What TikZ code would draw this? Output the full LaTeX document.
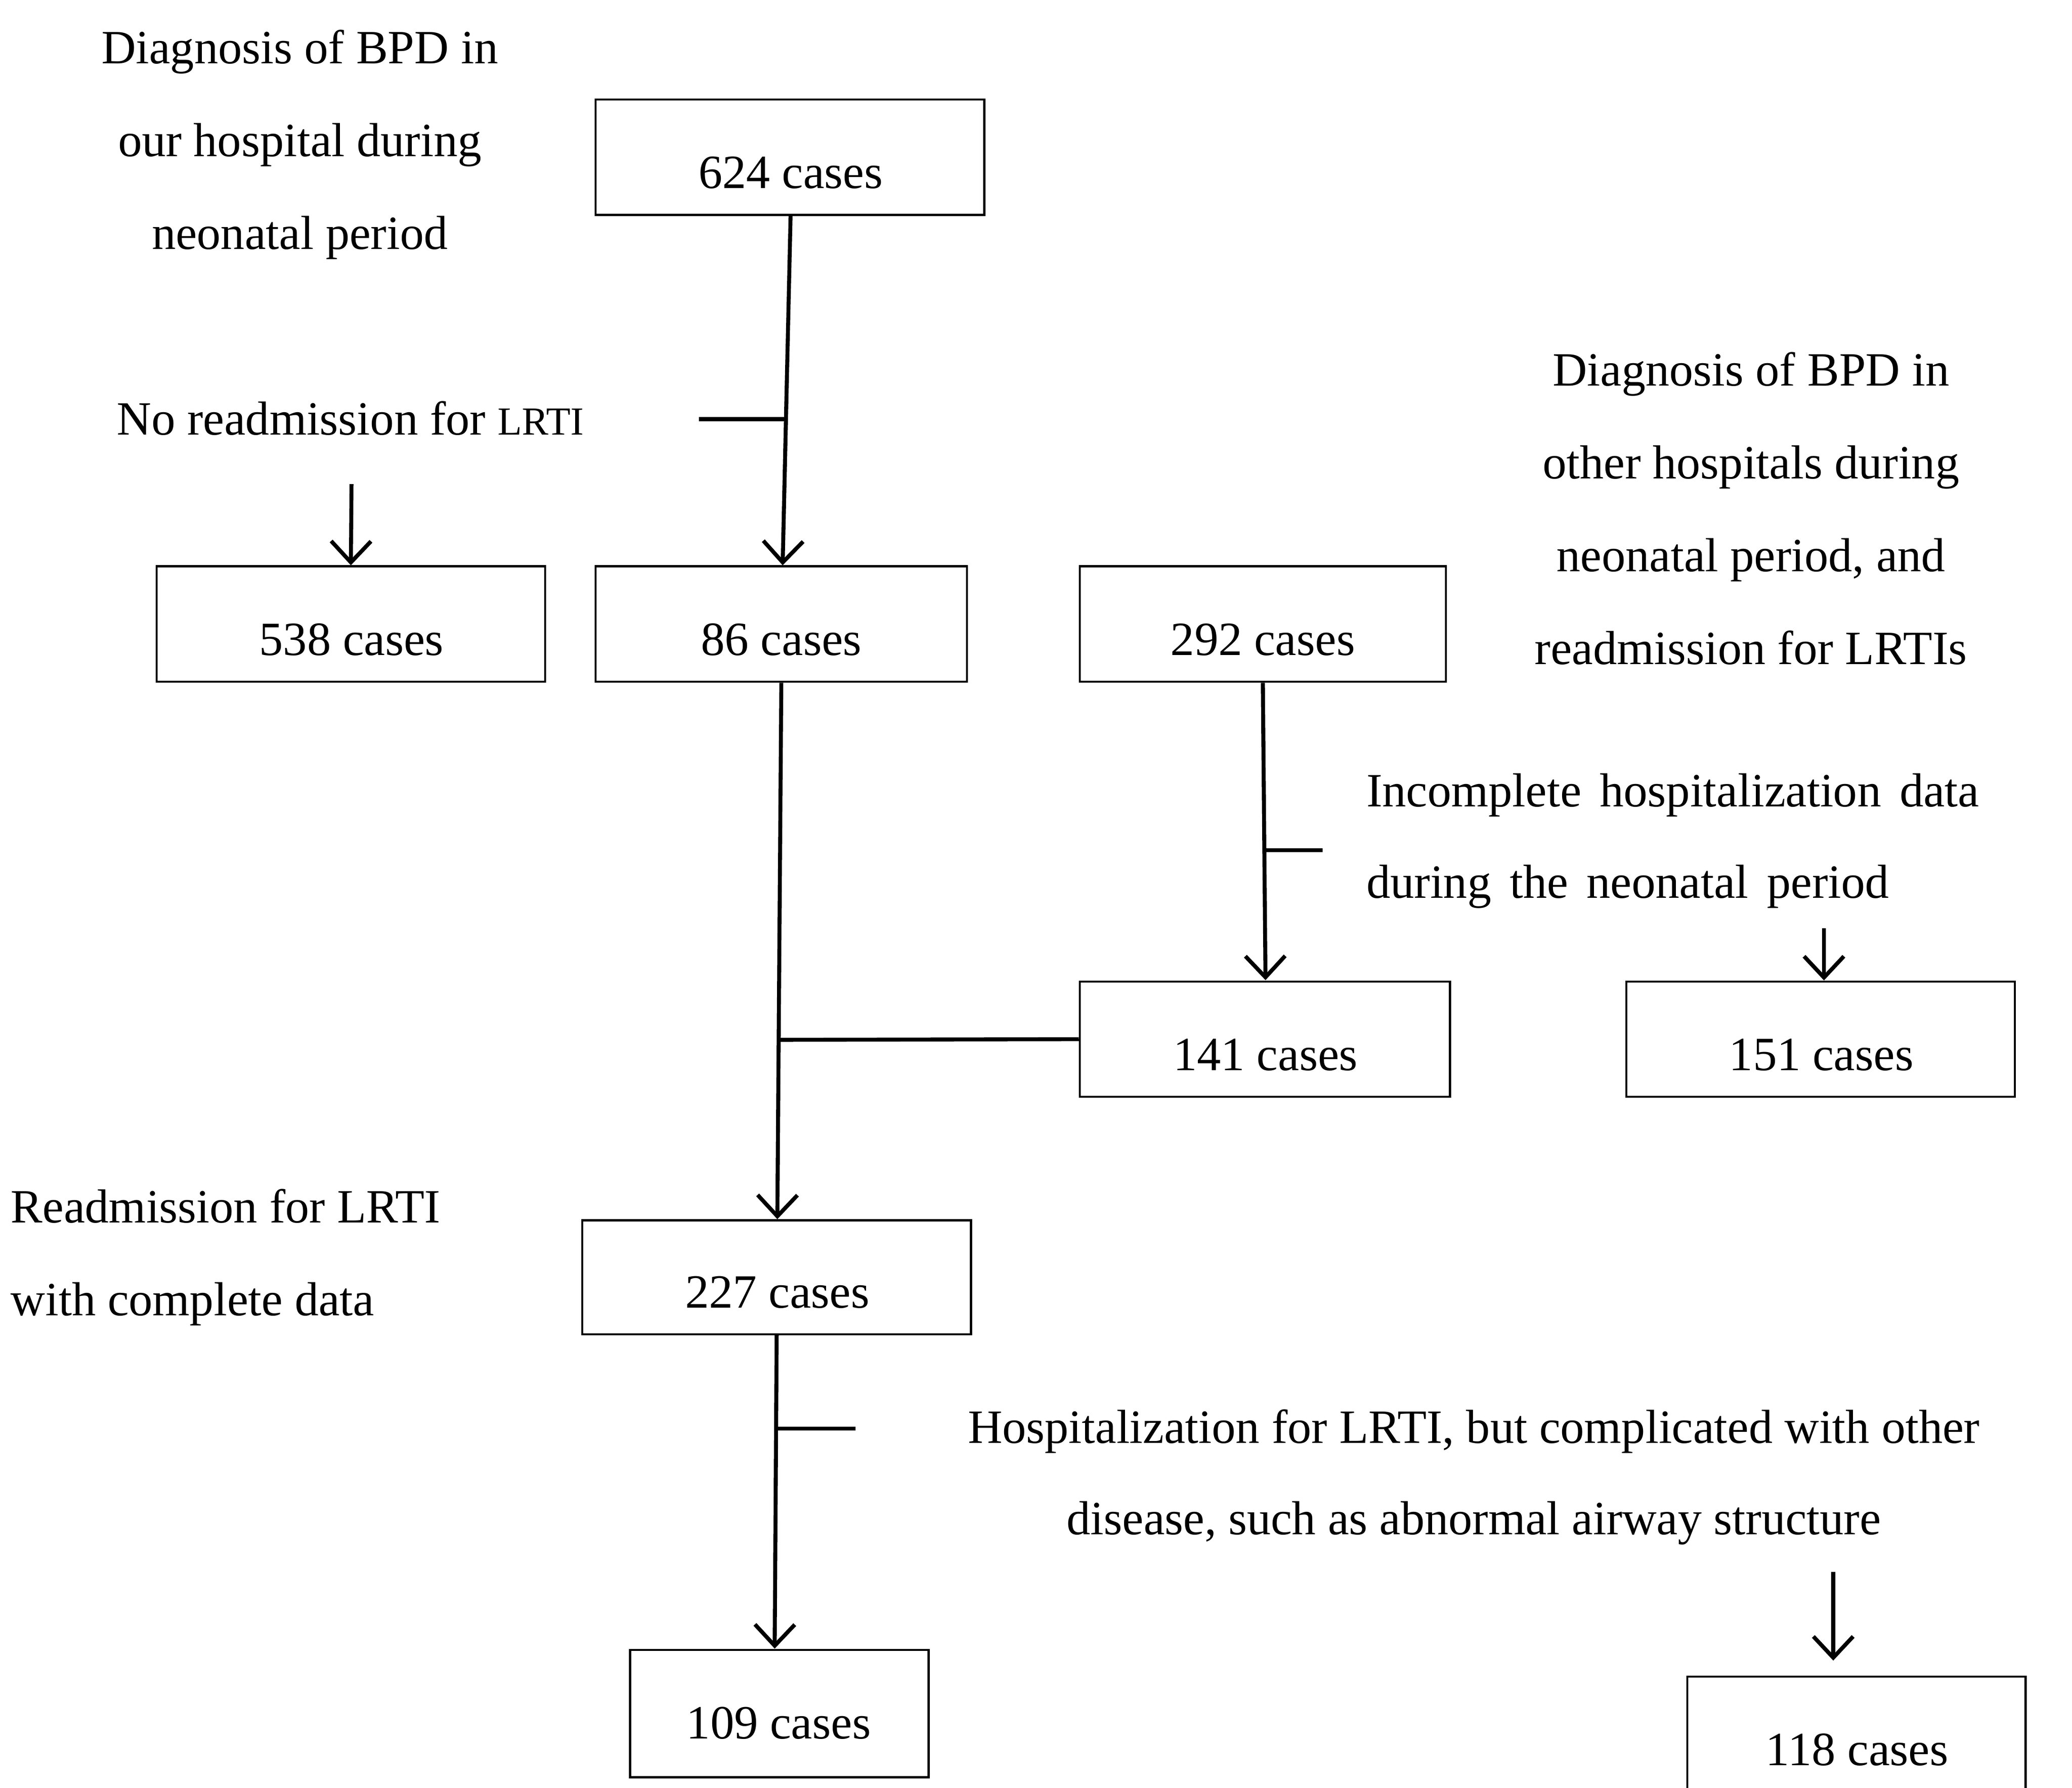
\documentclass[tikz,border=0pt]{standalone}
\usepackage{fontspec}
\setmainfont{Liberation Serif}
\usetikzlibrary{arrows.meta}
\begin{document}
\begin{tikzpicture}[x=1pt,y=-1pt,
  box/.style={draw,line width=1.6pt,inner sep=0pt},
  lbl/.style={font=\fontsize{36}{44}\selectfont,inner sep=0pt,anchor=base},
  txt/.style={font=\fontsize{36}{70}\selectfont,inner sep=0pt,align=center},
  ln/.style={line width=3pt},
  arr/.style={line width=3pt,-{Straight Barb[length=16pt,width=30pt,line width=3pt]}}]
\useasboundingbox (0,0) rectangle (1562,1348);
\fill[white] (0,0) rectangle (1562,1348);
% boxes
\node[box,minimum width=293pt,minimum height=87pt] (b624) at (595.5,118.5) {};
\node[box,minimum width=293pt,minimum height=87pt] (b538) at (264.5,470.5) {};
\node[box,minimum width=280pt,minimum height=87pt] (b86) at (589,470.5) {};
\node[box,minimum width=276pt,minimum height=87pt] (b292) at (952,470.5) {};
\node[box,minimum width=279pt,minimum height=87pt] (b141) at (953.5,783.5) {};
\node[box,minimum width=293pt,minimum height=87pt] (b151) at (1372.5,783.5) {};
\node[box,minimum width=293pt,minimum height=86pt] (b227) at (585.5,963) {};
\node[box,minimum width=225pt,minimum height=96pt] (b109) at (587.5,1292) {};
\node[box,minimum width=255pt,minimum height=88pt] (b118) at (1399.5,1308) {};
\node[lbl] at (596,142) {624 cases};
\node[lbl] at (265,494) {538 cases};
\node[lbl] at (589,494) {86 cases};
\node[lbl] at (952,494) {292 cases};
\node[lbl] at (954,807) {141 cases};
\node[lbl] at (1373,807) {151 cases};
\node[lbl] at (586,986) {227 cases};
\node[lbl] at (587,1311) {109 cases};
\node[lbl] at (1400,1331) {118 cases};
% texts
\node[lbl] (t1) at (226,48) {Diagnosis of BPD in};
\node[lbl] at (226,118) {our hospital during};
\node[lbl] at (226,188) {neonatal period};
\node[lbl,anchor=base west] at (88,328) {No readmission for {\fontsize{30}{36}\selectfont LRTI}};
\node[lbl] at (1320,291) {Diagnosis of BPD in};
\node[lbl] at (1320,361) {other hospitals during};
\node[lbl] at (1320,431) {neonatal period, and};
\node[lbl] at (1320,501) {readmission for LRTIs};
\node[lbl,anchor=base west] at (1030,608) {Incomplete\hspace{14pt}hospitalization\hspace{14pt}data};
\node[lbl,anchor=base west] at (1030,677) {during\hspace{14pt}the\hspace{14pt}neonatal\hspace{14pt}period};
\node[lbl,anchor=base west] at (8,922) {Readmission for LRTI};
\node[lbl,anchor=base west] at (8,992) {with complete data};
\node[lbl] at (1111,1088) {Hospitalization for LRTI, but complicated with other};
\node[lbl] at (1111,1157) {disease, such as abnormal airway structure};
% connectors
\coordinate (k1) at (593,316); \coordinate (k1e) at (527,316);
\draw[arr] (596,162) -- (b86.north -| 590,0);
\draw[ln] (k1) -- (k1e);
\coordinate (a1) at (265,365);
\draw[arr] (a1) -- (b538.north);
\draw[arr] (b86.south) -- (b227.north -| 586,0);
\coordinate (j1) at (588,784);
\draw[ln] (b141.west) -- (j1);
\draw[arr] (b292.south) -- (954,739);
\coordinate (k2) at (954,641); \coordinate (k2e) at (997,641);
\draw[ln] (k2) -- (k2e);
\coordinate (a2) at (1375,700);
\draw[arr] (a2) -- (b151.north -| 1375,0);
\draw[arr] (b227.south) -- (584,1243);
\coordinate (k3) at (585,1077); \coordinate (k3e) at (645,1077);
\draw[ln] (k3) -- (k3e);
\coordinate (a3) at (1382,1185);
\draw[arr] (a3) -- (1382,1252);
\end{tikzpicture}
\end{document}
